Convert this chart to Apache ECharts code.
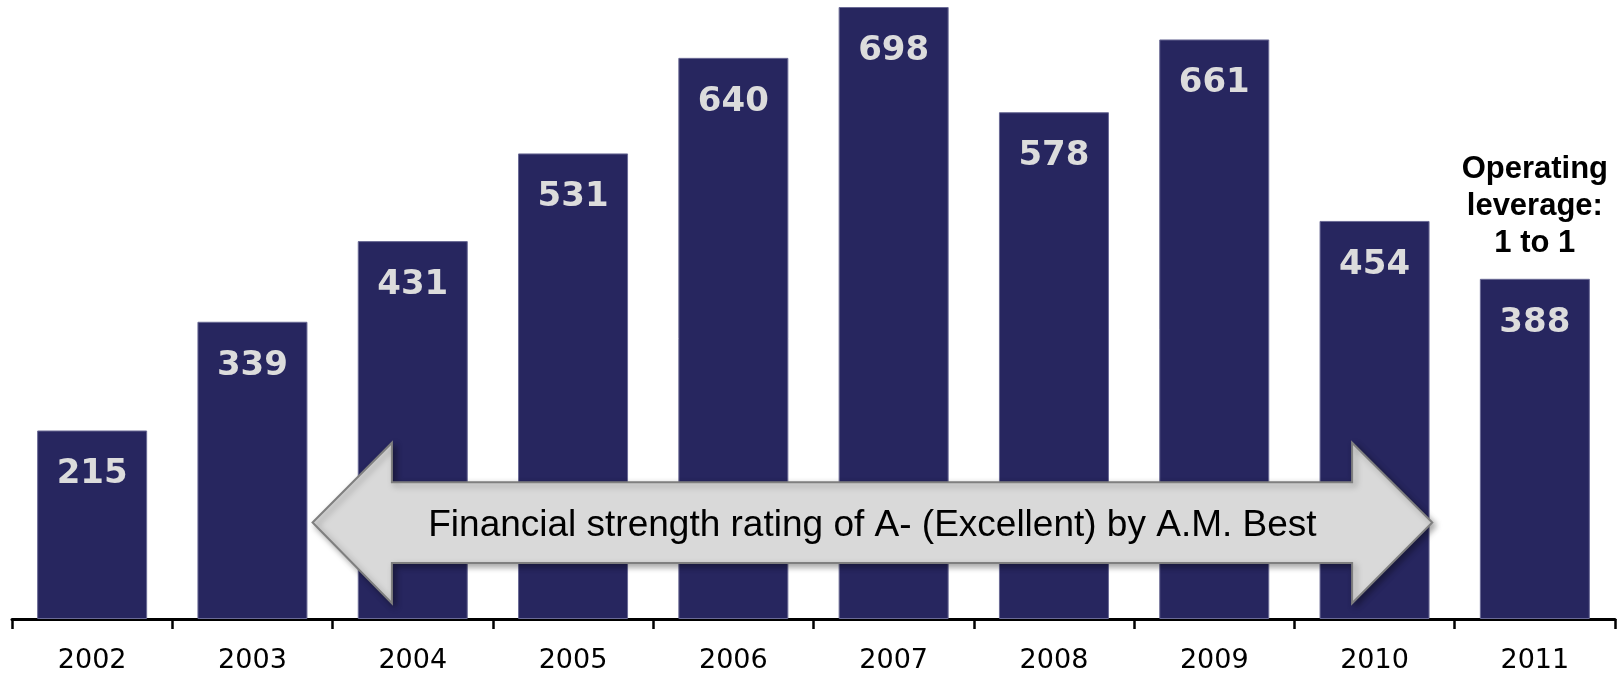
<!DOCTYPE html>
<html><head><meta charset="utf-8">
<script src="https://cdn.jsdelivr.net/npm/echarts@6/dist/echarts.min.js"></script>
<style>html,body{margin:0;padding:0;background:#fff}#c{width:1619px;height:677px}</style>
</head><body><div id="c"></div>
<script>
const categories = ['2002','2003','2004','2005','2006','2007','2008','2009','2010','2011'];
const values = [215,339,431,531,640,698,578,661,454,388];
const arrowText = 'Financial strength rating of A- (Excellent) by A.M. Best';
const noteLines = ['Operating', 'leverage:', '1 to 1'];

const chart = echarts.init(document.getElementById('c'), null, {renderer:'canvas'});
chart.setOption({
  animation:false,
  backgroundColor:'#ffffff',
  grid:{left:12,right:4,top:0,bottom:58},
  xAxis:{type:'category',data:categories,boundaryGap:true,
    axisLine:{lineStyle:{color:'#000',width:3}},
    axisTick:{show:true,length:10,lineStyle:{color:'#000',width:2.5}},
    axisLabel:{color:'#000',fontFamily:'DejaVu Sans',fontSize:27,margin:28}
  },
  yAxis:{type:'value',min:0,max:706,show:false,splitLine:{show:false}},
  series:[{type:'bar',data:values,barWidth:110,
    itemStyle:{color:'#27265f',borderColor:'#6a6a95',borderWidth:1},
    label:{show:true,position:'insideTop',distance:27,color:'#dcdcdc',
      fontFamily:'DejaVu Sans',fontWeight:'bold',fontSize:34}
  }]
});

function drawExtras(){
  const p = (i,v)=>chart.convertToPixel({xAxisIndex:0,yAxisIndex:0},[i,v]);
  const x0 = p(0,0)[0], dx = p(1,0)[0]-x0;
  const X = i => x0 + i*dx;
  const Y = v => p(0,v)[1];
  const tipLx = X(1.375), tipRx = X(8.36), tipY = Y(110);
  const baseL = X(1.87), baseR = X(7.86);
  const headTop = Y(201), headBot = Y(18);
  const shTop = Y(156), shBot = Y(64);
  const pts = [
    [tipLx,tipY],[baseL,headTop],[baseL,shTop],[baseR,shTop],[baseR,headTop],
    [tipRx,tipY],[baseR,headBot],[baseR,shBot],[baseL,shBot],[baseL,headBot]
  ];
  chart.setOption({graphic:[
    {type:'polygon',shape:{points:pts},z:100,
      style:{fill:'#d9d9d9',stroke:'#7f7f7f',lineWidth:2,
        shadowBlur:6,shadowColor:'rgba(0,0,0,0.35)',shadowOffsetX:3,shadowOffsetY:3}},
    {type:'text',z:101,x:(tipLx+tipRx)/2,y:tipY+3,
      style:{text:arrowText,fill:'#000',font:'37px "Liberation Sans", Arial',align:'center',verticalAlign:'middle'}},
    {type:'text',z:101,x:X(9),y:151,
      style:{text:noteLines.join('\n'),fill:'#000',font:'bold 31px "Liberation Sans", Arial',
        align:'center',verticalAlign:'top',lineHeight:37}}
  ]});
}
drawExtras();
</script></body></html>
